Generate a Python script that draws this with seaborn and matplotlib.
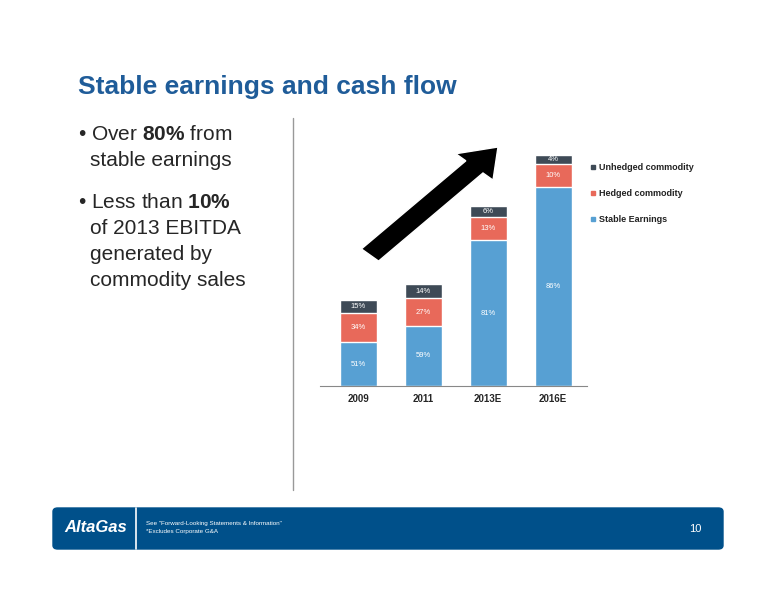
import numpy as np
import pandas as pd
import matplotlib
matplotlib.use("Agg")
import matplotlib.pyplot as plt
import seaborn as sns
from matplotlib.patches import FancyBboxPatch, FancyArrow

years = ["2009", "2011", "2013E", "2016E"]
totals = [86, 102, 180, 231]          # relative EBITDA
stable_pct = [51, 59, 81, 86]
hedged_pct = [34, 27, 13, 10]
unhedged_pct = [15, 14, 6, 4]

blue = "#57A0D3"
red = "#E8695A"
dark = "#3E4A56"
navy = "#00508A"

tot = np.array(totals, float)
stable = tot * np.array(stable_pct) / 100
hedged = tot * np.array(hedged_pct) / 100
df = pd.DataFrame({"year": years, "total": tot, "sh": stable + hedged, "stable": stable})

sns.set_style("white")
plt.rcParams["font.family"] = ["Liberation Sans", "DejaVu Sans"]
plt.rcParams["mathtext.fontset"] = "custom"
plt.rcParams["mathtext.rm"] = "Liberation Sans"
plt.rcParams["mathtext.bf"] = "Liberation Sans:bold"
fig = plt.figure(figsize=(7.76, 6), dpi=100)
W, H = 776, 600

ax = fig.add_axes([320 / W, 1 - 386 / H, 267 / W, 231 / H])
sns.barplot(data=df, x="year", y="total", color=dark, width=0.57, saturation=1, ax=ax)
sns.barplot(data=df, x="year", y="sh", color=red, width=0.57, saturation=1, ax=ax)
sns.barplot(data=df, x="year", y="stable", color=blue, width=0.57, saturation=1, ax=ax)
ax.set_xlim(-0.585, 3.52)
ax.set_ylim(0, 231)
ax.set_xlabel("")
ax.set_ylabel("")
ax.set_yticks([])
for s in ["top", "right", "left"]:
    ax.spines[s].set_visible(False)
ax.spines["bottom"].set_color("#888888")
ax.tick_params(axis="x", length=0, labelsize=7, pad=6)
for t in ax.get_xticklabels():
    t.set_fontweight("bold")

for i in range(4):
    ax.text(i, stable[i] / 2, f"{stable_pct[i]}%", color="white", ha="center", va="center", fontsize=5.5)
    ax.text(i, stable[i] + hedged[i] / 2, f"{hedged_pct[i]}%", color="white", ha="center", va="center", fontsize=5.5)
    ax.text(i, (stable[i] + hedged[i] + tot[i]) / 2, f"{unhedged_pct[i]}%", color="white", ha="center", va="center", fontsize=5.5)

# legend
for k, (lab, c) in enumerate([("Unhedged commodity", dark), ("Hedged commodity", red), ("Stable Earnings", blue)]):
    y = 1 - (167 + 26 * k) / H
    fig.patches.append(plt.Rectangle((591 / W, y - 2 / H), 4 / W, 4 / H, color=c, transform=fig.transFigure))
    fig.text(599 / W, y, lab, fontsize=6.5, fontweight="bold", va="center", color="#222222")

# arrow
fig.patches.append(FancyArrow(370 / W, 1 - 255 / H, 128 / W, 108 / H, width=0.03, head_width=0.065,
                              head_length=0.045, length_includes_head=True, color="black",
                              ec="white", lw=1, transform=fig.transFigure))

# title, bullets, divider
fig.text(78 / W, 1 - 87 / H, "Stable earnings and cash flow", fontsize=19, fontweight="bold", color="#1F5C99", va="center")
fig.add_artist(plt.Line2D([293 / W, 293 / W], [1 - 118 / H, 1 - 490 / H], color="#999999", lw=1))
fs = 15
fig.text(78 / W, 1 - 135 / H, "• Over $\\bf{80\\%}$ from", fontsize=fs, va="center")
fig.text(90 / W, 1 - 161 / H, "stable earnings", fontsize=fs, va="center")
fig.text(78 / W, 1 - 203 / H, "• Less than $\\bf{10\\%}$", fontsize=fs, va="center")
for j, line in enumerate(["of 2013 EBITDA", "generated by", "commodity sales"]):
    fig.text(90 / W, 1 - (229 + 26 * j) / H, line, fontsize=fs, va="center")

# footer
fig.patches.append(FancyBboxPatch((53 / W, 1 - 549 / H), 670 / W, 41 / H, boxstyle="round,pad=0,rounding_size=0.006",
                                  color=navy, transform=fig.transFigure))
fig.add_artist(plt.Line2D([136 / W, 136 / W], [1 - 549 / H, 1 - 508 / H], color="white", lw=1.2))
fig.text(64 / W, 1 - 528 / H, "AltaGas", fontsize=12, fontweight="bold", style="italic", color="white", va="center")
fig.text(146 / W, 1 - 524 / H, "See \"Forward-Looking Statements & Information\"", fontsize=4.5, color="white", va="center")
fig.text(146 / W, 1 - 532 / H, "*Excludes Corporate G&A", fontsize=4.5, color="white", va="center")
fig.text(695 / W, 1 - 529 / H, "10", fontsize=8, color="white", va="center", ha="center")

fig.savefig("out.png", dpi=100)
